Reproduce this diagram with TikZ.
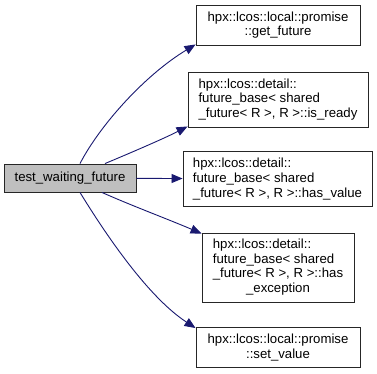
\documentclass[tikz,border=0pt]{standalone}
\usepackage{fontspec}
\setmainfont{Liberation Sans}
\usetikzlibrary{arrows.meta}
\definecolor{edgeblue}{HTML}{191970}
\definecolor{rootgray}{HTML}{BFBFBF}

\begin{document}
\begin{tikzpicture}
	[x=1pt, y=-1pt, font=\fontsize{13.2}{14.6}\selectfont,
	fn_style/.style={draw=black!85, fill=white, inner sep=0pt, line width=0.9pt},
	root_style/.style={fn_style, fill=rootgray},
	call_style/.style={draw=edgeblue, line width=0.9pt,
		-{Triangle[length=11pt, width=9pt]}}]
	\useasboundingbox (0,0) rectangle (377,373);

	\node[root_style, minimum width=132pt, minimum height=28pt] (root) at (70,178) {test\_waiting\_future};

	\node[fn_style, minimum width=164pt, minimum height=40pt, align=center] (getfut) at (278,25)
		{hpx::lcos::local::promise\\::get\_future};
	\node[fn_style, minimum width=180pt, minimum height=55pt, align=left] (isready) at (278,99.5)
		{hpx::lcos::detail::\\future\_base< shared\\\_future< R >, R >::is\_ready};
	\node[fn_style, minimum width=189pt, minimum height=55pt, align=left] (hasval) at (277.5,179)
		{hpx::lcos::detail::\\future\_base< shared\\\_future< R >, R >::has\_value};
	\node[fn_style, minimum width=152pt, minimum height=69pt] (hasexc) at (278,267.5)
		{\begin{tabular}{@{}l@{}}hpx::lcos::detail::\\future\_base< shared\\\_future< R >, R >::has\\
		\multicolumn{1}{@{}c@{}}{\_exception}\end{tabular}};
	\node[fn_style, minimum width=164pt, minimum height=40pt, align=center] (setval) at (278,347.5)
		{hpx::lcos::local::promise\\::set\_value};

	% calls out of the test
	\draw[call_style] ([xshift=10pt]root.north) .. controls (100,125) and (145,75) .. ([yshift=1pt]getfut.south west);
	\draw[call_style] ([xshift=35pt]root.north) .. controls (135,151) and (165,138) .. ([yshift=1pt]isready.south west);
	\draw[call_style] (root) -- (hasval);
	\draw[call_style] ([xshift=32pt]root.south) .. controls (130,205) and (170,220) .. ([yshift=-1pt]hasexc.north west);
	\draw[call_style] ([xshift=10pt]root.south) .. controls (100,225) and (145,295) .. ([yshift=-1pt]setval.north west);
\end{tikzpicture}
\end{document}
